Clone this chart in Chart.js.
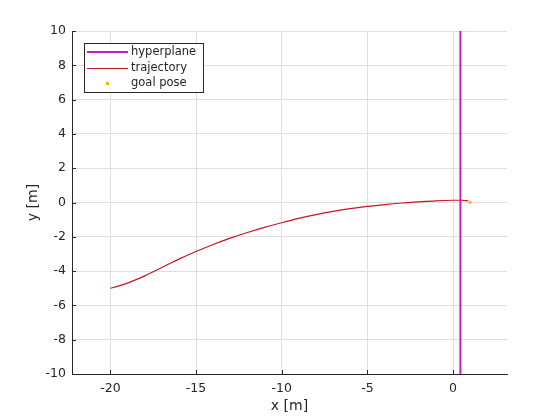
<!DOCTYPE html>
<html>
<head>
<meta charset="utf-8">
<script src="https://cdn.jsdelivr.net/npm/chart.js@4/dist/chart.umd.min.js"></script>
<style>
  html, body { margin: 0; padding: 0; background: #fff; }
  #wrap { width: 560px; height: 420px; }
</style>
</head>
<body>
<div id="wrap"><canvas id="chart" width="560" height="420"></canvas></div>
<script>
// 轨迹数据
const trajX = [-20, -19.5, -19, -18.5, -18, -17.5, -17, -16.5, -16, -15, -14, -13, -12, -11, -10,
               -9, -8, -7, -6, -5, -4, -3, -2, -1, 0, 0.5, 0.9];
const trajY = [-5.0, -4.86, -4.70, -4.50, -4.28, -4.04, -3.79, -3.54, -3.30, -2.86, -2.45, -2.08, -1.75, -1.45, -1.18,
               -0.93, -0.71, -0.52, -0.36, -0.23, -0.12, -0.03, 0.04, 0.10, 0.13, 0.13, 0.10];

// 超平面和目标位姿
const hyperX = [0.43, 0.43];
const hyperY = [-10, 10];
const goalX = [1.0];
const goalY = [0.0];

// 坐标轴
const xRange = [-22.24, 3.15];
const yRange = [-10, 10];
const xTicks = [-20, -15, -10, -5, 0];
const yTicks = [-10, -8, -6, -4, -2, 0, 2, 4, 6, 8, 10];

const legendLabels = ['hyperplane', 'trajectory', 'goal pose'];

const FONT = 'DejaVu Sans';
const AXIS_COLOR = '#262626';
const GRID_COLOR = '#dfdfdf';
const colors = {
    hyper: '#c21fc2',
    traj: '#c81420',
    goal: '#edb120'
};

function toPoints(xs, ys) {
    return xs.map((x, i) => ({ x: x, y: ys[i] }));
}

// 向内的刻度线 + 图例
const extrasPlugin = {
    id: 'extras',
    afterDraw(chart) {
        const ctx = chart.ctx;
        const xs = chart.scales.x;
        const ys = chart.scales.y;
        const area = chart.chartArea;

        ctx.save();
        ctx.strokeStyle = AXIS_COLOR;
        ctx.lineWidth = 1;
        ctx.beginPath();
        xTicks.forEach(v => {
            const px = Math.round(xs.getPixelForValue(v)) + 0.5;
            ctx.moveTo(px, area.bottom);
            ctx.lineTo(px, area.bottom - 4);
        });
        yTicks.forEach(v => {
            const py = Math.round(ys.getPixelForValue(v)) + 0.5;
            ctx.moveTo(area.left, py);
            ctx.lineTo(area.left + 4, py);
        });
        ctx.stroke();

        // 图例框
        const bx = 84.5, by = 43.5, bw = 119, bh = 49;
        ctx.fillStyle = '#fff';
        ctx.fillRect(bx, by, bw, bh);
        ctx.strokeStyle = AXIS_COLOR;
        ctx.strokeRect(bx, by, bw, bh);

        const rows = [52, 68.5, 83.5];
        ctx.lineWidth = 2;
        ctx.strokeStyle = colors.hyper;
        ctx.beginPath();
        ctx.moveTo(87, rows[0]);
        ctx.lineTo(128, rows[0]);
        ctx.stroke();

        ctx.lineWidth = 1;
        ctx.strokeStyle = colors.traj;
        ctx.beginPath();
        ctx.moveTo(87, rows[1]);
        ctx.lineTo(128, rows[1]);
        ctx.stroke();

        ctx.fillStyle = colors.goal;
        ctx.fillRect(106, rows[2] - 1.5, 3, 3);

        ctx.fillStyle = AXIS_COLOR;
        ctx.font = '11.5px "' + FONT + '"';
        ctx.textAlign = 'left';
        ctx.textBaseline = 'middle';
        legendLabels.forEach((t, i) => ctx.fillText(t, 131, rows[i]));
        ctx.restore();
    }
};

const ctx = document.getElementById('chart').getContext('2d');
new Chart(ctx, {
    type: 'line',
    data: {
        datasets: [
            {
                label: legendLabels[0],
                data: toPoints(hyperX, hyperY),
                borderColor: colors.hyper,
                borderWidth: 2,
                pointRadius: 0,
                fill: false
            },
            {
                label: legendLabels[1],
                data: toPoints(trajX, trajY),
                borderColor: colors.traj,
                borderWidth: 1.2,
                pointRadius: 0,
                cubicInterpolationMode: 'monotone',
                fill: false
            },
            {
                label: legendLabels[2],
                data: toPoints(goalX, goalY),
                showLine: false,
                pointStyle: 'rect',
                pointRadius: 1.8,
                pointBorderWidth: 0,
                pointBackgroundColor: colors.goal,
                order: -1
            }
        ]
    },
    options: {
        responsive: false,
        animation: false,
        layout: { padding: { top: 31, right: 53, left: 0, bottom: 0 } },
        plugins: {
            legend: { display: false },
            tooltip: { enabled: false }
        },
        scales: {
            x: {
                type: 'linear',
                min: xRange[0],
                max: xRange[1],
                afterBuildTicks: s => { s.ticks = xTicks.map(v => ({ value: v })); },
                afterFit: s => { s.height = 46; },
                grid: { color: GRID_COLOR, drawTicks: false },
                border: { color: AXIS_COLOR, width: 1 },
                ticks: {
                    color: AXIS_COLOR,
                    font: { family: FONT, size: 12.5 },
                    padding: 7,
                    maxRotation: 0
                },
                title: {
                    display: true,
                    text: 'x [m]',
                    color: AXIS_COLOR,
                    font: { family: FONT, size: 14 },
                    padding: { top: 0, bottom: 5 }
                }
            },
            y: {
                type: 'linear',
                min: yRange[0],
                max: yRange[1],
                afterBuildTicks: s => { s.ticks = yTicks.map(v => ({ value: v })); },
                afterFit: s => { s.width = 72; },
                grid: { color: GRID_COLOR, drawTicks: false },
                border: { color: AXIS_COLOR, width: 1 },
                ticks: {
                    color: AXIS_COLOR,
                    font: { family: FONT, size: 12.5 },
                    padding: 6
                },
                title: {
                    display: true,
                    text: 'y [m]',
                    color: AXIS_COLOR,
                    font: { family: FONT, size: 14 },
                    padding: { top: 25, bottom: 0 }
                }
            }
        }
    },
    plugins: [extrasPlugin]
});
</script>
</body>
</html>
